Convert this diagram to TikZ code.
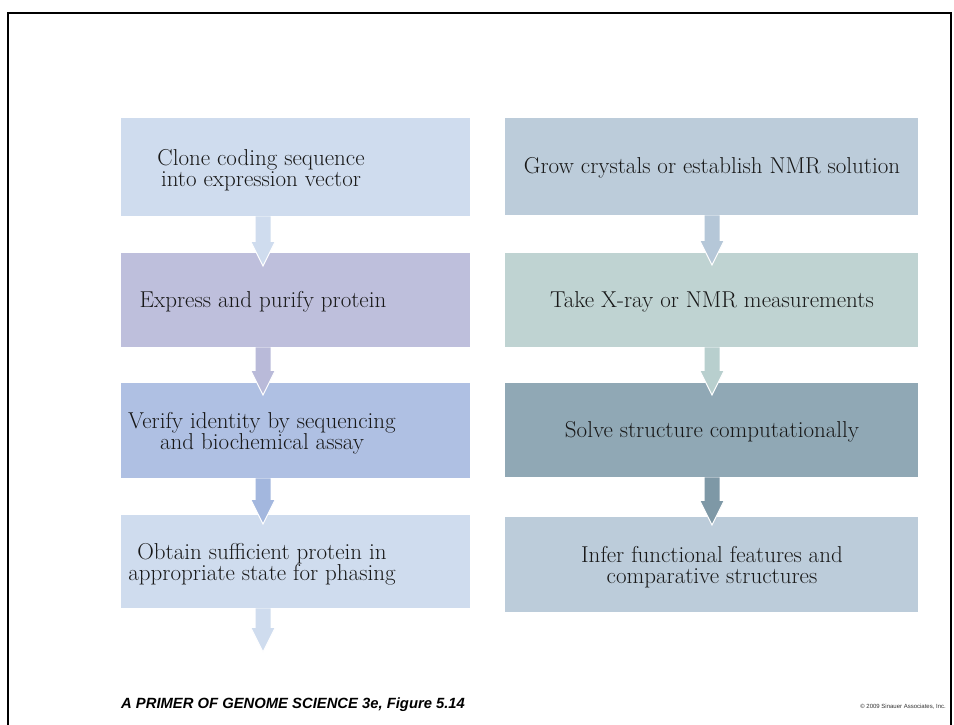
\documentclass[tikz,border=0pt]{standalone}
\usepackage{fontspec}
\usetikzlibrary{calc}
\newfontfamily\capfont{Liberation Sans}
\definecolor{cA}{HTML}{CFDCEE}
\definecolor{cB}{HTML}{BEBFDC}
\definecolor{cBa}{HTML}{B9BAD9}
\definecolor{cC}{HTML}{AFC0E3}
\definecolor{cCa}{HTML}{A3B7DE}
\definecolor{dA}{HTML}{BCCCDA}
\definecolor{dAa}{HTML}{B5C7D8}
\definecolor{dB}{HTML}{BFD3D2}
\definecolor{dBa}{HTML}{B8CFCE}
\definecolor{dC}{HTML}{90A8B5}
\definecolor{dCa}{HTML}{7E98A6}
\definecolor{txt}{HTML}{181818}
\newcommand\flowarr[3]{%
  \fill[#3] let \p1=(#1), \p2=(#2) in
    (\x1-7.5pt,\y1) -- (\x1+7.5pt,\y1) -- (\x1+7.5pt,\y2+24pt) -- (\x1+12pt,\y2+24pt)
    -- (\x1,\y2) -- (\x1-12pt,\y2+24pt) -- (\x1-7.5pt,\y2+24pt) -- cycle;
  \draw[white, line width=1pt] let \p1=(#1), \p2=(#2) in
    (\x1+12pt,\y2+24pt) -- (\x1,\y2) -- (\x1-12pt,\y2+24pt);
}
\tikzset{
  boxL/.style={rectangle, inner sep=0pt, anchor=north west, minimum width=349pt},
  boxR/.style={rectangle, inner sep=0pt, anchor=north west, minimum width=413pt},
  lbl/.style={inner sep=0pt, align=center, text=txt, font=\fontsize{23}{21}\selectfont},
}
\begin{document}
\begin{tikzpicture}[x=1pt,y=-1pt]
\useasboundingbox (0,0) rectangle (954,725);
\fill[white] (0,0) rectangle (954,725);
\draw[line width=2pt] (7.5,726) -- (7.5,13) -- (950.5,13) -- (950.5,726);

\coordinate (axL) at (263,0);
\coordinate (axR) at (712,0);

% left column
\node[boxL, fill=cA, minimum height=98pt] (L1) at (121,118) {};
\node[boxL, fill=cB, minimum height=94pt] (L2) at (121,253) {};
\node[boxL, fill=cC, minimum height=95pt] (L3) at (121,383) {};
\node[boxL, fill=cA, minimum height=93pt] (L4) at (121,515) {};
% right column
\node[boxR, fill=dA, minimum height=97pt] (R1) at (505,118) {};
\node[boxR, fill=dB, minimum height=94pt] (R2) at (505,253) {};
\node[boxR, fill=dC, minimum height=94pt] (R3) at (505,383) {};
\node[boxR, fill=dA, minimum height=95pt] (R4) at (505,517) {};

% labels
\node[lbl] (tL1) at (261,170) {Clone coding sequence\\into expression vector};
\node[lbl] (tL2) at (263,302) {Express and purify protein};
\node[lbl] (tL3) at (262,433) {Verify identity by sequencing\\and biochemical assay};
\node[lbl] (tL4) at (262,564) {Obtain sufficient protein in\\appropriate state for phasing};
\node[lbl] (tR1) at (712,168) {Grow crystals or establish NMR solution};
\node[lbl] (tR2) at (712,302) {Take X-ray or NMR measurements};
\node[lbl] (tR3) at (712,432) {Solve structure computationally};
\node[lbl] (tR4) at (712,567) {Infer functional features and\\comparative structures};

% arrows
\coordinate (endL) at (263,652);
\flowarr{L1.south -| axL}{[yshift=-13pt]L2.north -| axL}{cA}
\flowarr{L2.south -| axL}{[yshift=-12pt]L3.north -| axL}{cBa}
\flowarr{L3.south -| axL}{[yshift=-9pt]L4.north -| axL}{cCa}
\flowarr{L4.south -| axL}{endL}{cA}
\flowarr{R1.south -| axR}{[yshift=-12pt]R2.north -| axR}{dAa}
\flowarr{R2.south -| axR}{[yshift=-12pt]R3.north -| axR}{dBa}
\flowarr{R3.south -| axR}{[yshift=-8pt]R4.north -| axR}{dCa}

% footer
\node[anchor=base west, inner sep=0pt, font=\capfont\bfseries\itshape\fontsize{14.8}{16}\selectfont] (title) at (121,708) {A PRIMER OF GENOME SCIENCE 3e, Figure 5.14};
\node[anchor=base east, inner sep=0pt, font=\capfont\fontsize{6}{7}\selectfont, text=black!80] (copy) at (946,708) {\textcopyright\ 2009 Sinauer Associates, Inc.};
\end{tikzpicture}
\end{document}
